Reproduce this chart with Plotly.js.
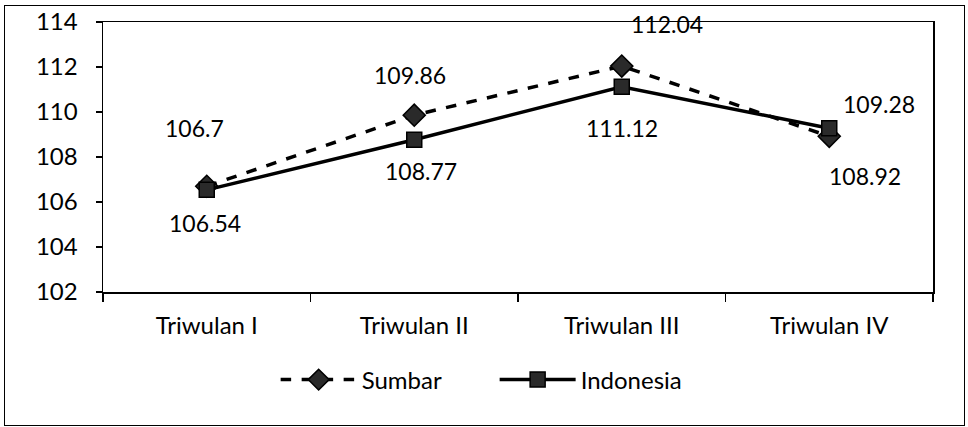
<!DOCTYPE html>
<html>
<head>
<meta charset="utf-8">
<script src="https://cdn.plot.ly/plotly-3.0.1.min.js"></script>
<style>
html,body{margin:0;padding:0;background:#fff;width:968px;height:427px;overflow:hidden;}
#frame{position:absolute;left:4px;top:5px;width:959px;height:419px;border:1.5px solid #000;}
#chart{width:959px;height:419px;}
</style>
</head>
<body>
<div id="frame"><div id="chart"></div></div>
<script>
const categories = ["Triwulan I", "Triwulan II", "Triwulan III", "Triwulan IV"];
const sumbar = [106.7, 109.86, 112.04, 108.92];
const indonesia = [106.54, 108.77, 111.12, 109.28];
const sumbarLabels = ["106.7", "109.86", "112.04", "108.92"];
const indonesiaLabels = ["106.54", "108.77", "111.12", "109.28"];
const yTicks = [102, 104, 106, 108, 110, 112, 114];

const FONT = "Lato, 'Open Sans', sans-serif";

const traces = [
  {
    x: categories, y: sumbar, name: "Sumbar", type: "scatter", mode: "lines+markers",
    line: {color: "#000", width: 3.5, dash: "dash"},
    marker: {symbol: "diamond", size: 17, color: "#2a2a2a", line: {color: "#000", width: 1.5}}
  },
  {
    x: categories, y: indonesia, name: "Indonesia", type: "scatter", mode: "lines+markers",
    line: {color: "#000", width: 3.5},
    marker: {symbol: "square", size: 15, color: "#2a2a2a", line: {color: "#000", width: 1.5}}
  }
];

// label offsets (pixels) relative to each point
const sOff = [[-12, -58], [-4, -40], [45, -42], [36, 40]];
const iOff = [[-2, 33], [7, 31], [0, 41], [50, -24]];
const annotations = [];
categories.forEach((c, i) => {
  annotations.push({x: c, y: sumbar[i], text: sumbarLabels[i], showarrow: true, arrowcolor: "rgba(0,0,0,0)",
    ax: sOff[i][0], ay: sOff[i][1], font: {family: FONT, size: 23, color: "#000"}});
  annotations.push({x: c, y: indonesia[i], text: indonesiaLabels[i], showarrow: true, arrowcolor: "rgba(0,0,0,0)",
    ax: iOff[i][0], ay: iOff[i][1], font: {family: FONT, size: 23, color: "#000"}});
});

const layout = {
  width: 959, height: 419,
  margin: {l: 98, r: 31, t: 16, b: 133, autoexpand: false},
  paper_bgcolor: "#fff", plot_bgcolor: "#fff",
  font: {family: FONT, color: "#000"},
  showlegend: true,
  legend: {orientation: "h", x: 0.208, xanchor: "left", y: -0.326, yanchor: "middle",
    font: {family: FONT, size: 24, color: "#000"}, itemwidth: 76, entrywidth: 128, traceorder: "normal"},
  xaxis: {
    type: "category", range: [-0.5, 3.5], tickson: "boundaries",
    showline: true, linecolor: "#000", linewidth: 1.5, mirror: true,
    ticks: "outside", ticklen: 8, tickcolor: "#000", tickwidth: 1.5,
    ticklabelstandoff: 12,
    showgrid: false, zeroline: false,
    tickfont: {family: FONT, size: 24, color: "#000"}
  },
  yaxis: {
    range: [102, 114], tickvals: yTicks, ticktext: yTicks.map(String),
    showline: true, linecolor: "#000", linewidth: 1.5, mirror: true,
    ticks: "outside", ticklen: 6, tickcolor: "#000", tickwidth: 1.5,
    ticklabelstandoff: 13,
    showgrid: false, zeroline: false,
    tickfont: {family: FONT, size: 24, color: "#000"}
  },
  annotations: annotations
};

Plotly.newPlot("chart", traces, layout, {displayModeBar: false, staticPlot: true});
</script>
</body>
</html>
